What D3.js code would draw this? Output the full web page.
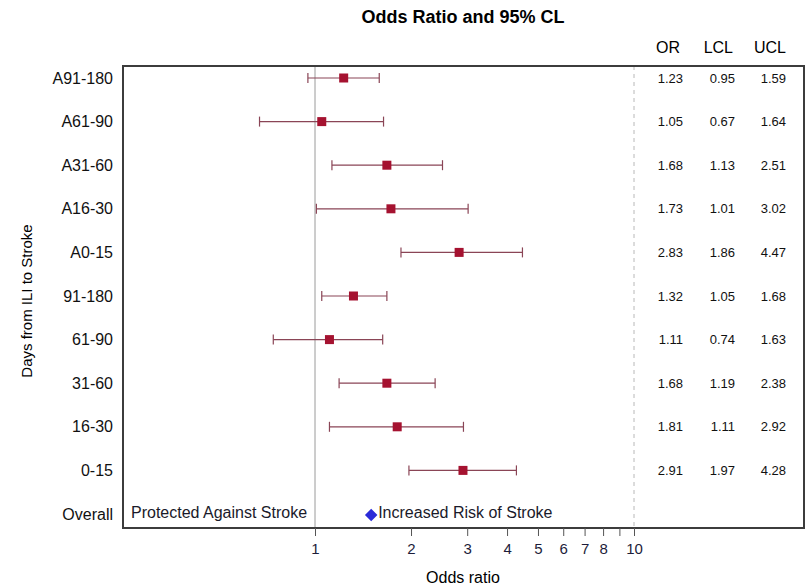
<!DOCTYPE html>
<html>
<head>
<meta charset="utf-8">
<script src="https://cdn.jsdelivr.net/npm/d3@7"></script>
<style>
  body { margin: 0; background: #fff; }
  svg { display: block; font-family: "Liberation Sans", Arial, sans-serif; }
</style>
</head>
<body>
<div id="chart"></div>
<script>
const categories = ["A91-180", "A61-90", "A31-60", "A16-30", "A0-15",
                    "91-180", "61-90", "31-60", "16-30", "0-15", "Overall"];
const oddsRatio = [1.23, 1.05, 1.68, 1.73, 2.83, 1.32, 1.11, 1.68, 1.81, 2.91];
const lowerCL   = [0.95, 0.67, 1.13, 1.01, 1.86, 1.05, 0.74, 1.19, 1.11, 1.97];
const upperCL   = [1.59, 1.64, 2.51, 3.02, 4.47, 1.68, 1.63, 2.38, 2.92, 4.28];
const overallMarker = 1.5;
const tickValues = [1, 2, 3, 4, 5, 6, 7, 8, 9, 10];
const tickLabels = ["1", "2", "3", "4", "5", "6", "7", "8", "", "10"];

const MARKER_COLOR = "#a51230";
const BAR_COLOR = "#8a4556";
const DIAMOND_COLOR = "#2b2bd8";

const width = 811;
const height = 586;
const frame = { left: 123, right: 804, top: 66, bottom: 528 };

const svg = d3.select("#chart")
    .append("svg")
    .attr("width", width)
    .attr("height", height);

const x = d3.scaleLog()
    .domain([1, 10])
    .range([315, 634]);

const y = d3.scalePoint()
    .domain(categories)
    .range([78, 514]);

const rows = oddsRatio.map((d, i) => ({
    cat: categories[i],
    or: d,
    lcl: lowerCL[i],
    ucl: upperCL[i]
}));

// title
svg.append("text")
    .attr("x", 463)
    .attr("y", 23)
    .attr("text-anchor", "middle")
    .attr("font-weight", "bold")
    .attr("font-size", 18)
    .text("Odds Ratio and 95% CL");

// reference lines
svg.append("line")
    .attr("x1", x(1)).attr("x2", x(1))
    .attr("y1", frame.top).attr("y2", frame.bottom)
    .attr("stroke", "#9a9a9a")
    .attr("stroke-width", 1);

svg.append("line")
    .attr("x1", x(10)).attr("x2", x(10))
    .attr("y1", frame.top).attr("y2", frame.bottom)
    .attr("stroke", "#b8b8b8")
    .attr("stroke-dasharray", "4,4")
    .attr("stroke-width", 1);

// frame
svg.append("rect")
    .attr("x", frame.left)
    .attr("y", frame.top)
    .attr("width", frame.right - frame.left)
    .attr("height", frame.bottom - frame.top)
    .attr("fill", "none")
    .attr("stroke", "#3c3c3c")
    .attr("stroke-width", 2);

// x axis
const xAxis = d3.axisBottom(x)
    .tickValues(tickValues)
    .tickSize(8)
    .tickSizeOuter(0)
    .tickFormat((d, i) => tickLabels[i]);

const gx = svg.append("g")
    .attr("transform", "translate(0," + frame.bottom + ")")
    .call(xAxis);
gx.select(".domain").remove();
gx.selectAll(".tick line").attr("stroke", "#555");
gx.selectAll(".tick text")
    .attr("font-family", "Liberation Sans, Arial, sans-serif")
    .attr("font-size", 15)
    .attr("fill", "#1d1d3a")
    .attr("dy", "1em");

svg.append("text")
    .attr("x", 463)
    .attr("y", 583)
    .attr("text-anchor", "middle")
    .attr("font-size", 16)
    .text("Odds ratio");

// y axis labels
const yAxis = d3.axisLeft(y).tickSize(0).tickPadding(10);
const gy = svg.append("g")
    .attr("transform", "translate(" + frame.left + ",0)")
    .call(yAxis);
gy.select(".domain").remove();
gy.selectAll(".tick text")
    .attr("font-family", "Liberation Sans, Arial, sans-serif")
    .attr("font-size", 16)
    .attr("fill", "#111");

svg.append("text")
    .attr("transform", "translate(32," + 301 + ") rotate(-90)")
    .attr("text-anchor", "middle")
    .attr("font-size", 15)
    .text("Days from ILI to Stroke");

// error bars
const bars = svg.append("g").attr("class", "bars")
    .selectAll("g")
    .data(rows)
    .join("g")
    .attr("stroke", BAR_COLOR)
    .attr("stroke-width", 1.2);

bars.append("line")
    .attr("x1", d => x(d.lcl)).attr("x2", d => x(d.ucl))
    .attr("y1", d => y(d.cat)).attr("y2", d => y(d.cat));
bars.append("line")
    .attr("x1", d => x(d.lcl)).attr("x2", d => x(d.lcl))
    .attr("y1", d => y(d.cat) - 5).attr("y2", d => y(d.cat) + 5);
bars.append("line")
    .attr("x1", d => x(d.ucl)).attr("x2", d => x(d.ucl))
    .attr("y1", d => y(d.cat) - 5).attr("y2", d => y(d.cat) + 5);

svg.append("g")
    .selectAll("rect")
    .data(rows)
    .join("rect")
    .attr("x", d => x(d.or) - 4.5)
    .attr("y", d => y(d.cat) - 4.5)
    .attr("width", 9)
    .attr("height", 9)
    .attr("fill", MARKER_COLOR);

// overall row
svg.append("path")
    .attr("d", d3.symbol(d3.symbolDiamond2, 100)())
    .attr("transform", "translate(" + x(overallMarker) + "," + (y("Overall") + 1) + ")")
    .attr("fill", DIAMOND_COLOR);

svg.append("text")
    .attr("x", x(overallMarker) + 7)
    .attr("y", y("Overall"))
    .attr("dy", "0.25em")
    .attr("font-size", 16)
    .attr("fill", "#1a1a2a")
    .text("Increased Risk of Stroke");

svg.append("text")
    .attr("x", 131)
    .attr("y", y("Overall"))
    .attr("dy", "0.25em")
    .attr("font-size", 16)
    .attr("fill", "#1a1a2a")
    .text("Protected Against Stroke");

// table columns
const columns = [
    { head: "OR", key: "or", x: 683, hx: 680 },
    { head: "LCL", key: "lcl", x: 735, hx: 733 },
    { head: "UCL", key: "ucl", x: 786, hx: 786 }
];

columns.forEach(c => {
    svg.append("text")
        .attr("x", c.hx)
        .attr("y", 53)
        .attr("text-anchor", "end")
        .attr("font-size", 16)
        .text(c.head);

    svg.append("g")
        .selectAll("text")
        .data(rows)
        .join("text")
        .attr("x", c.x)
        .attr("y", d => y(d.cat))
        .attr("dy", "0.35em")
        .attr("text-anchor", "end")
        .attr("font-size", 13)
        .attr("fill", "#111")
        .text(d => d[c.key].toFixed(2));
});
</script>
</body>
</html>
